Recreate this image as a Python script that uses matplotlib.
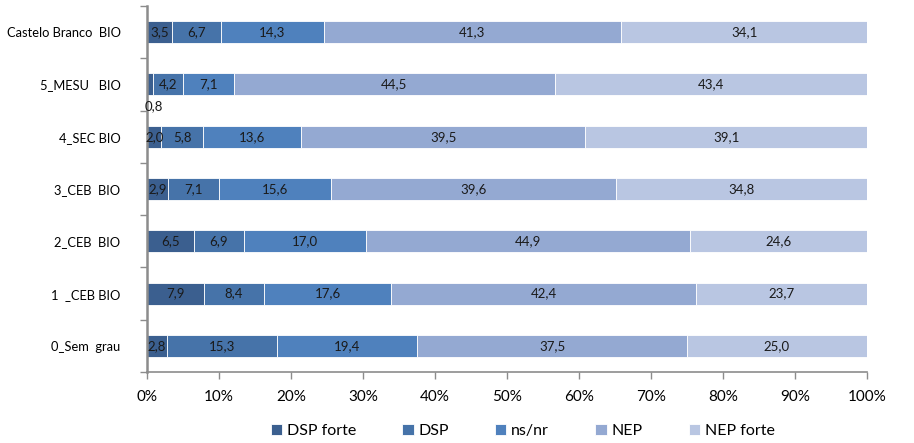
import matplotlib
matplotlib.use("Agg")
import matplotlib.pyplot as plt
import numpy as np

plt.rcParams['font.family'] = ['Lato', 'DejaVu Sans']

categories = ["Castelo Branco  BIO", "5_MESU   BIO", "4_SEC BIO", "3_CEB  BIO",
              "2_CEB  BIO", "1  _CEB BIO", "0_Sem  grau"]
series_names = ["DSP forte", "DSP", "ns/nr", "NEP", "NEP forte"]
dsp_forte = [3.5, 0.8, 2.0, 2.9, 6.5, 7.9, 2.8]
dsp = [6.7, 4.2, 5.8, 7.1, 6.9, 8.4, 15.3]
nsnr = [14.3, 7.1, 13.6, 15.6, 17.0, 17.6, 19.4]
nep = [41.3, 44.5, 39.5, 39.6, 44.9, 42.4, 37.5]
nep_forte = [34.1, 43.4, 39.1, 34.8, 24.6, 23.7, 25.0]
xtick_labels = ["0%", "10%", "20%", "30%", "40%", "50%", "60%", "70%", "80%", "90%", "100%"]

colors = ["#3b5f8f", "#4673a9", "#4f81bd", "#94a9d2", "#b9c6e2"]

data = np.array([dsp_forte, dsp, nsnr, nep, nep_forte])
totals = data.sum(axis=0)
pct = data / totals * 100

fig = plt.figure(figsize=(9.14, 4.43), dpi=100)
ax = fig.add_axes([147/914, (443-372)/443, 720/914, 366/443])

n = len(categories)
ypos = np.arange(n)[::-1]  # first category on top
left = np.zeros(n)
for i, name in enumerate(series_names):
    ax.barh(ypos, pct[i], left=left, height=0.42, color=colors[i],
            edgecolor='white', linewidth=0.6, label=name)
    for j in range(n):
        val = data[i, j]
        txt = f"{val:.1f}".replace('.', ',')
        if val < 1.5:
            ax.text(left[j] - 0.3, ypos[j] - 0.42, txt, ha='left', va='center',
                    fontsize=9.5, color='#1a1a1a')
        else:
            ax.text(left[j] + pct[i, j] / 2, ypos[j], txt, ha='center', va='center',
                    fontsize=9.5, color='#1a1a1a')
    left += pct[i]

ax.set_xlim(0, 100)
ax.set_ylim(-0.5, n - 0.5)
ax.set_xticks(np.arange(0, 101, 10))
ax.set_xticklabels(xtick_labels)
ax.set_yticks(np.arange(-0.5, n, 1))
ax.set_yticklabels([])
ax.set_yticks(np.arange(n), minor=True)
ax.set_yticklabels(categories[::-1], minor=True)
ax.tick_params(axis='y', which='minor', length=0, pad=19, labelsize=9.3)
ax.tick_params(axis='y', which='major', length=5, width=1, color='#8c8c8c', direction='out')
ax.tick_params(axis='x', length=5, width=1, color='#8c8c8c', direction='out', pad=8,
               labelsize=11)

for s in ['top', 'right']:
    ax.spines[s].set_visible(False)
ax.spines['left'].set_color('#8c8c8c')
ax.spines['left'].set_linewidth(1.8)
ax.spines['bottom'].set_color('#8c8c8c')
ax.spines['bottom'].set_linewidth(1.2)

fig.legend(loc='center', bbox_to_anchor=(0.572, 0.027), ncol=5, frameon=False,
           fontsize=11.5, handlelength=0.7, handleheight=0.7, handletextpad=0.3,
           columnspacing=2.9)

fig.savefig("out.png", dpi=100)
